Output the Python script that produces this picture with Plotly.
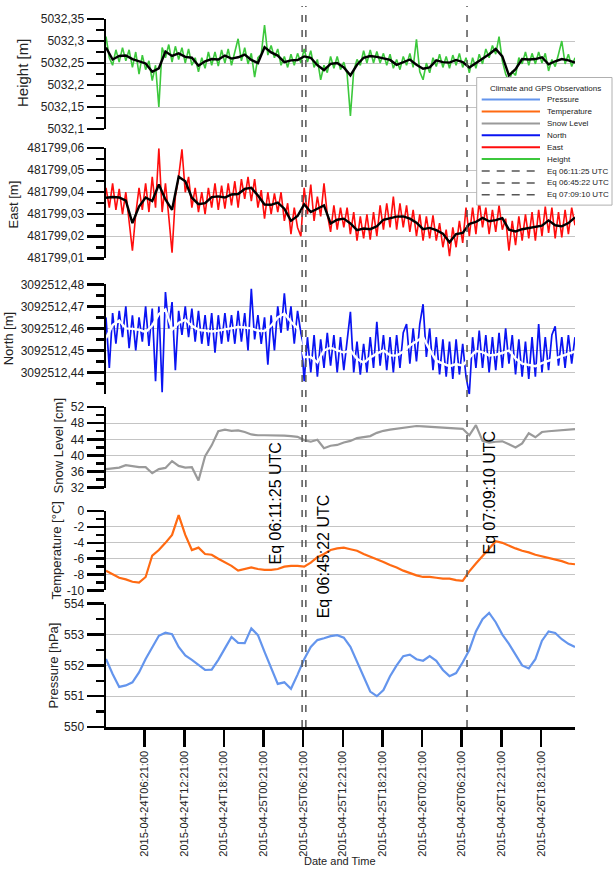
import pandas as pd
import plotly.graph_objects as go

# ---------------- data ----------------
START = "2015-04-24 00:30"
END = "2015-04-26 23:30"
hourly_times = pd.date_range(START, END, freq="60min")      # 72 samples
halfhour_times = pd.date_range(START, END, freq="30min")    # 143 samples

x_tick_times = ["2015-04-24 06:21", "2015-04-24 12:21", "2015-04-24 18:21",
                "2015-04-25 00:21", "2015-04-25 06:21", "2015-04-25 12:21",
                "2015-04-25 18:21", "2015-04-26 00:21", "2015-04-26 06:21",
                "2015-04-26 12:21", "2015-04-26 18:21"]
x_tick_labels = ["2015-04-24T06:21:00", "2015-04-24T12:21:00", "2015-04-24T18:21:00",
                 "2015-04-25T00:21:00", "2015-04-25T06:21:00", "2015-04-25T12:21:00",
                 "2015-04-25T18:21:00", "2015-04-26T00:21:00", "2015-04-26T06:21:00",
                 "2015-04-26T12:21:00", "2015-04-26T18:21:00"]

eq_times = ["2015-04-25 06:11:25", "2015-04-25 06:45:22", "2015-04-26 07:09:10"]
eq_labels = ["Eq 06:11:25 UTC", "Eq 06:45:22 UTC", "Eq 07:09:10 UTC"]

pressure_hpa = [
    552.21, 551.72, 551.30, 551.35, 551.45, 551.77, 552.21, 552.61, 552.96, 553.06,
    553.01, 552.60, 552.32, 552.18, 552.00, 551.85, 551.86, 552.18, 552.55, 552.92,
    552.73, 552.72, 553.20, 552.98, 552.44, 551.90, 551.40, 551.45, 551.24, 551.70,
    552.20, 552.60, 552.82, 552.88, 552.95, 552.98, 552.90, 552.60, 552.10, 551.60,
    551.15, 551.00, 551.20, 551.65, 552.00, 552.30, 552.35, 552.20, 552.15, 552.30,
    552.15, 551.85, 551.65, 551.75, 552.10, 552.50, 553.10, 553.50, 553.70, 553.40,
    553.00, 552.70, 552.35, 552.00, 551.90, 552.20, 552.80, 553.10, 553.05, 552.85,
    552.70, 552.60]

temperature_c = [
    -7.5, -8.0, -8.4, -8.6, -8.9, -9.0, -8.3, -5.6, -4.9, -4.0,
    -3.0, -0.5, -3.0, -4.9, -4.6, -5.4, -5.5, -6.0, -6.4, -6.9,
    -7.5, -7.3, -7.1, -7.3, -7.4, -7.4, -7.3, -7.0, -6.9, -6.9,
    -7.0, -6.5, -5.8, -5.4, -4.9, -4.7, -4.6, -4.8, -5.0, -5.4,
    -5.7, -6.0, -6.4, -6.8, -7.1, -7.5, -7.8, -8.1, -8.3, -8.3,
    -8.4, -8.5, -8.5, -8.7, -8.8, -7.6, -6.6, -5.7, -4.8, -3.8,
    -4.0, -4.4, -4.7, -5.0, -5.2, -5.5, -5.7, -5.9, -6.1, -6.3,
    -6.6, -6.7]

snow_level_cm = [
    36.6, 36.8, 37.0, 37.6, 37.3, 37.1, 37.1, 35.6, 36.6, 36.9,
    38.6, 37.4, 37.0, 37.1, 33.8, 39.8, 42.5, 46.0, 46.4, 46.1,
    46.2, 45.8, 45.2, 45.0, 45.0, 45.0, 45.0, 44.9, 44.8, 44.6,
    43.8, 43.4, 43.9, 41.8, 42.4, 42.6, 43.2, 43.6, 44.3, 44.5,
    44.8, 45.6, 46.1, 46.4, 46.6, 46.9, 47.0, 47.3, 47.2, 47.1,
    46.9, 46.8, 46.8, 46.7, 46.6, 45.0, 47.5, 43.6, 43.2, 43.4,
    43.5, 42.8, 42.0, 43.0, 45.5, 44.5, 45.8, 46.0, 46.1, 46.3,
    46.4, 46.5]

height_raw_m = [
    5032.310, 5032.262, 5032.245, 5032.280, 5032.252, 5032.285, 5032.255, 5032.280, 5032.240, 5032.275,
    5032.225, 5032.268, 5032.235, 5032.255, 5032.210, 5032.245, 5032.150, 5032.285, 5032.262, 5032.292,
    5032.252, 5032.288, 5032.258, 5032.285, 5032.250, 5032.282, 5032.245, 5032.262, 5032.230, 5032.262,
    5032.238, 5032.275, 5032.245, 5032.275, 5032.243, 5032.280, 5032.250, 5032.282, 5032.245, 5032.275,
    5032.305, 5032.255, 5032.285, 5032.248, 5032.272, 5032.218, 5032.262, 5032.270, 5032.336, 5032.268,
    5032.290, 5032.262, 5032.282, 5032.245, 5032.265, 5032.240, 5032.270, 5032.245, 5032.272, 5032.250,
    5032.282, 5032.252, 5032.278, 5032.240, 5032.258, 5032.212, 5032.245, 5032.228, 5032.265, 5032.238,
    5032.265, 5032.235, 5032.252, 5032.225, 5032.130, 5032.232, 5032.258, 5032.245, 5032.278, 5032.250,
    5032.280, 5032.250, 5032.276, 5032.250, 5032.272, 5032.245, 5032.270, 5032.238, 5032.258, 5032.235,
    5032.265, 5032.245, 5032.272, 5032.240, 5032.304, 5032.230, 5032.212, 5032.250, 5032.228, 5032.262,
    5032.242, 5032.270, 5032.240, 5032.265, 5032.238, 5032.268, 5032.245, 5032.272, 5032.240, 5032.262,
    5032.228, 5032.262, 5032.238, 5032.270, 5032.248, 5032.282, 5032.262, 5032.290, 5032.270, 5032.310,
    5032.255, 5032.225, 5032.208, 5032.230, 5032.222, 5032.262, 5032.248, 5032.275, 5032.245, 5032.272,
    5032.248, 5032.275, 5032.250, 5032.272, 5032.232, 5032.258, 5032.242, 5032.270, 5032.300, 5032.248,
    5032.270, 5032.242, 5032.262]

height_smooth_m = [
    5032.285, 5032.258, 5032.266, 5032.267, 5032.259, 5032.254, 5032.249, 5032.230, 5032.238, 5032.276,
    5032.266, 5032.272, 5032.264, 5032.262, 5032.244, 5032.254, 5032.259, 5032.258, 5032.267, 5032.260,
    5032.263, 5032.269, 5032.257, 5032.250, 5032.286, 5032.274, 5032.267, 5032.252, 5032.256, 5032.257,
    5032.265, 5032.262, 5032.245, 5032.234, 5032.248, 5032.250, 5032.240, 5032.222, 5032.246, 5032.262,
    5032.266, 5032.264, 5032.261, 5032.257, 5032.246, 5032.252, 5032.258, 5032.246, 5032.237, 5032.240,
    5032.256, 5032.252, 5032.251, 5032.257, 5032.252, 5032.240, 5032.250, 5032.260, 5032.270, 5032.282,
    5032.265, 5032.222, 5032.236, 5032.259, 5032.258, 5032.259, 5032.263, 5032.247, 5032.254, 5032.259,
    5032.256, 5032.251]

east_raw_m = [
    481799.0420, 481799.0330, 481799.0440, 481799.0320, 481799.0415, 481799.0300, 481799.0400, 481799.0280, 481799.0135, 481799.0300,
    481799.0420, 481799.0320, 481799.0440, 481799.0310, 481799.0470, 481799.0330, 481799.0600, 481799.0310, 481799.0440, 481799.0290,
    481799.0125, 481799.0380, 481799.0470, 481799.0595, 481799.0400, 481799.0470, 481799.0330, 481799.0420, 481799.0310, 481799.0400,
    481799.0300, 481799.0420, 481799.0330, 481799.0440, 481799.0320, 481799.0430, 481799.0325, 481799.0440, 481799.0340, 481799.0450,
    481799.0330, 481799.0460, 481799.0370, 481799.0470, 481799.0360, 481799.0460, 481799.0330, 481799.0410, 481799.0280, 481799.0400,
    481799.0300, 481799.0395, 481799.0310, 481799.0400, 481799.0270, 481799.0350, 481799.0210, 481799.0330, 481799.0240, 481799.0200,
    481799.0420, 481799.0300, 481799.0435, 481799.0270, 481799.0380, 481799.0290, 481799.0440, 481799.0300, 481799.0220, 481799.0340,
    481799.0230, 481799.0330, 481799.0240, 481799.0330, 481799.0210, 481799.0310, 481799.0180, 481799.0290, 481799.0190, 481799.0300,
    481799.0185, 481799.0310, 481799.0200, 481799.0340, 481799.0230, 481799.0350, 481799.0240, 481799.0380, 481799.0230, 481799.0350,
    481799.0240, 481799.0340, 481799.0220, 481799.0320, 481799.0200, 481799.0300, 481799.0180, 481799.0290, 481799.0190, 481799.0295,
    481799.0180, 481799.0260, 481799.0150, 481799.0230, 481799.0110, 481799.0240, 481799.0150, 481799.0270, 481799.0170, 481799.0330,
    481799.0200, 481799.0330, 481799.0210, 481799.0360, 481799.0240, 481799.0330, 481799.0210, 481799.0320, 481799.0220, 481799.0340,
    481799.0230, 481799.0280, 481799.0135, 481799.0270, 481799.0160, 481799.0290, 481799.0180, 481799.0300, 481799.0190, 481799.0310,
    481799.0180, 481799.0320, 481799.0200, 481799.0335, 481799.0215, 481799.0330, 481799.0190, 481799.0310, 481799.0195, 481799.0320,
    481799.0210, 481799.0330, 481799.0250]

east_smooth_m = [
    481799.0375, 481799.0378, 481799.0376, 481799.0362, 481799.0260, 481799.0335, 481799.0376, 481799.0360, 481799.0435, 481799.0367,
    481799.0320, 481799.0470, 481799.0450, 481799.0375, 481799.0346, 481799.0350, 481799.0378, 481799.0381, 481799.0376, 481799.0390,
    481799.0392, 481799.0415, 481799.0420, 481799.0385, 481799.0344, 481799.0343, 481799.0353, 481799.0325, 481799.0270, 481799.0292,
    481799.0345, 481799.0310, 481799.0325, 481799.0340, 481799.0258, 481799.0275, 481799.0280, 481799.0258, 481799.0228, 481799.0235,
    481799.0232, 481799.0245, 481799.0275, 481799.0283, 481799.0289, 481799.0290, 481799.0280, 481799.0262, 481799.0232, 481799.0238,
    481799.0228, 481799.0212, 481799.0173, 481799.0210, 481799.0215, 481799.0256, 481799.0265, 481799.0283, 481799.0268, 481799.0273,
    481799.0282, 481799.0230, 481799.0222, 481799.0232, 481799.0238, 481799.0242, 481799.0248, 481799.0272, 481799.0250, 481799.0245,
    481799.0260, 481799.0285]

north_raw_m = [
    3092512.4650, 3092512.4420, 3092512.4670, 3092512.4530, 3092512.4680, 3092512.4560, 3092512.4700, 3092512.4510, 3092512.4660, 3092512.4500,
    3092512.4650, 3092512.4540, 3092512.4700, 3092512.4520, 3092512.4690, 3092512.4360, 3092512.4700, 3092512.4310, 3092512.4765, 3092512.4600,
    3092512.4720, 3092512.4410, 3092512.4680, 3092512.4570, 3092512.4700, 3092512.4560, 3092512.4690, 3092512.4540, 3092512.4680, 3092512.4530,
    3092512.4660, 3092512.4520, 3092512.4670, 3092512.4490, 3092512.4660, 3092512.4530, 3092512.4670, 3092512.4540, 3092512.4660, 3092512.4530,
    3092512.4680, 3092512.4540, 3092512.4670, 3092512.4500, 3092512.4780, 3092512.4550, 3092512.4660, 3092512.4530, 3092512.4650, 3092512.4435,
    3092512.4660, 3092512.4500, 3092512.4700, 3092512.4580, 3092512.4760, 3092512.4590, 3092512.4700, 3092512.4530, 3092512.4680, 3092512.4580,
    3092512.4360, 3092512.4560, 3092512.4400, 3092512.4570, 3092512.4380, 3092512.4550, 3092512.4420, 3092512.4580, 3092512.4430, 3092512.4570,
    3092512.4400, 3092512.4560, 3092512.4410, 3092512.4550, 3092512.4675, 3092512.4400, 3092512.4540, 3092512.4390, 3092512.4530, 3092512.4400,
    3092512.4560, 3092512.4420, 3092512.4630, 3092512.4430, 3092512.4570, 3092512.4410, 3092512.4560, 3092512.4400, 3092512.4570, 3092512.4420,
    3092512.4580, 3092512.4620, 3092512.4440, 3092512.4600, 3092512.4450, 3092512.4620, 3092512.4710, 3092512.4470, 3092512.4600, 3092512.4410,
    3092512.4560, 3092512.4390, 3092512.4550, 3092512.4380, 3092512.4540, 3092512.4370, 3092512.4550, 3092512.4390, 3092512.4530, 3092512.4380,
    3092512.4300, 3092512.4560, 3092512.4420, 3092512.4590, 3092512.4420, 3092512.4570, 3092512.4400, 3092512.4560, 3092512.4410, 3092512.4580,
    3092512.4420, 3092512.4600, 3092512.4440, 3092512.4570, 3092512.4390, 3092512.4550, 3092512.4380, 3092512.4540, 3092512.4370, 3092512.4560,
    3092512.4380, 3092512.4620, 3092512.4400, 3092512.4560, 3092512.4410, 3092512.4570, 3092512.4610, 3092512.4430, 3092512.4560, 3092512.4420,
    3092512.4570, 3092512.4440, 3092512.4560]

north_smooth_m = [
    3092512.4555, 3092512.4615, 3092512.4636, 3092512.4600, 3092512.4598, 3092512.4594, 3092512.4583, 3092512.4613, 3092512.4665, 3092512.4686,
    3092512.4594, 3092512.4625, 3092512.4640, 3092512.4612, 3092512.4594, 3092512.4589, 3092512.4586, 3092512.4590, 3092512.4596, 3092512.4601,
    3092512.4606, 3092512.4604, 3092512.4600, 3092512.4589, 3092512.4588, 3092512.4612, 3092512.4650, 3092512.4668, 3092512.4630, 3092512.4600,
    3092512.4470, 3092512.4470, 3092512.4445, 3092512.4500, 3092512.4512, 3092512.4500, 3092512.4490, 3092512.4500, 3092512.4462, 3092512.4444,
    3092512.4468, 3092512.4485, 3092512.4500, 3092512.4478, 3092512.4476, 3092512.4495, 3092512.4522, 3092512.4541, 3092512.4560, 3092512.4502,
    3092512.4453, 3092512.4440, 3092512.4428, 3092512.4438, 3092512.4430, 3092512.4467, 3092512.4497, 3092512.4492, 3092512.4477, 3092512.4480,
    3092512.4488, 3092512.4500, 3092512.4462, 3092512.4440, 3092512.4434, 3092512.4428, 3092512.4442, 3092512.4452, 3092512.4463, 3092512.4474,
    3092512.4485, 3092512.4495]

# y tick values / labels (decimal comma as in the original)
height_ticks = [5032.10, 5032.15, 5032.20, 5032.25, 5032.30, 5032.35]
height_tick_labels = ["5032,1", "5032,15", "5032,2", "5032,25", "5032,3", "5032,35"]
height_minor = [5032.125, 5032.175, 5032.225, 5032.275, 5032.325]
east_ticks = [481799.01, 481799.02, 481799.03, 481799.04, 481799.05, 481799.06]
east_tick_labels = ["481799,01", "481799,02", "481799,03", "481799,04", "481799,05", "481799,06"]
east_minor = [481799.015, 481799.025, 481799.035, 481799.045, 481799.055]
north_ticks = [3092512.44, 3092512.45, 3092512.46, 3092512.47, 3092512.48]
north_tick_labels = ["3092512,44", "3092512,45", "3092512,46", "3092512,47", "3092512,48"]
north_minor = [3092512.435, 3092512.445, 3092512.455, 3092512.465, 3092512.475]
snow_ticks = [32, 36, 40, 44, 48, 52]
snow_tick_labels = ["32", "36", "40", "44", "48", "52"]
snow_minor = [34, 38, 42, 46, 50]
temp_ticks = [-10, -8, -6, -4, -2, 0]
temp_tick_labels = ["-10", "-8", "-6", "-4", "-2", "0"]
temp_minor = [-9, -7, -5, -3, -1]
pressure_ticks = [550, 551, 552, 553, 554]
pressure_tick_labels = ["550", "551", "552", "553", "554"]
pressure_minor = [550.5, 551.5, 552.5, 553.5]

# ---------------- styling ----------------
FONT = "Liberation Sans, Arial, sans-serif"
EQ_FONT = "Liberation Sans, Arial, sans-serif"
C_PRESSURE = "#6495ED"
C_TEMP = "#FF6A12"
C_SNOW = "#9A9A9A"
C_NORTH = "#0A14F2"
C_EAST = "#FF0D0D"
C_HEIGHT = "#3CC83C"
C_EQ = "#555555"

W, H = 614, 870
ML, MR, MT, MB = 106, 39, 13, 143
PW, PH = W - ML - MR, H - MT - MB


def px_x(p):
    return (p - ML) / PW


def px_y(p):
    return (H - MB - p) / PH


fig = go.Figure()


def add_line(x, y, yaxis, color, width):
    fig.add_trace(go.Scatter(x=x, y=y, xaxis="x", yaxis=yaxis, mode="lines",
                             line=dict(color=color, width=width),
                             showlegend=False, hoverinfo="skip"))


add_line(halfhour_times, height_raw_m, "y", C_HEIGHT, 1.6)
add_line(hourly_times, height_smooth_m, "y", "black", 2.4)
add_line(halfhour_times, east_raw_m, "y2", C_EAST, 1.6)
add_line(hourly_times, east_smooth_m, "y2", "black", 2.4)
add_line(halfhour_times, north_raw_m, "y3", C_NORTH, 1.7)
add_line(hourly_times, north_smooth_m, "y3", "white", 2.4)
add_line(hourly_times, snow_level_cm, "y4", C_SNOW, 2.2)
add_line(hourly_times, temperature_c, "y5", C_TEMP, 2.2)
add_line(hourly_times, pressure_hpa, "y6", C_PRESSURE, 2.2)


def yaxis(domain, rng, tv, tt, mv):
    return dict(domain=domain, range=rng, anchor="x", tickmode="array",
                tickvals=tv, ticktext=tt, ticks="outside", ticklen=17,
                tickwidth=2.5, tickcolor="black", showline=True,
                linecolor="black", linewidth=2.5, showgrid=True,
                gridcolor="#c4c4c4", gridwidth=1, zeroline=False,
                tickfont=dict(family=FONT, size=12, color="#222"),
                minor=dict(tickmode="array", tickvals=mv, ticks="outside",
                           ticklen=8, tickwidth=2.5, tickcolor="black",
                           showgrid=False),
                fixedrange=True)


eps = 1e-7
layout = dict(
    width=W, height=H, autosize=False,
    margin=dict(l=ML, r=MR, t=MT, b=MB, pad=0),
    paper_bgcolor="white", plot_bgcolor="white",
    font=dict(family=FONT, color="#222"),
    showlegend=False,
    xaxis=dict(domain=[0, 1], anchor="y6", type="date", range=[START, END],
               tickmode="array", tickvals=x_tick_times, ticktext=x_tick_labels,
               tickangle=-90, ticks="outside", ticklen=17, tickwidth=2.5,
               tickcolor="black", showline=True, linecolor="black",
               linewidth=2.5, showgrid=False, zeroline=False,
               tickfont=dict(family=FONT, size=11, color="#222"),
               fixedrange=True),
    yaxis=yaxis([px_y(124), 1.0], [5032.1 - eps, 5032.35 + eps],
                height_ticks, height_tick_labels, height_minor),
    yaxis2=yaxis([px_y(254.3), px_y(143.3)], [481799.01 - eps, 481799.06 + eps],
                 east_ticks, east_tick_labels, east_minor),
    yaxis3=yaxis([px_y(391.5), px_y(280.7)], [3092512.43, 3092512.48 + eps],
                 north_ticks, north_tick_labels, north_minor),
    yaxis4=yaxis([px_y(485.7), px_y(404.3)], [32 - eps, 52 + eps],
                 snow_ticks, snow_tick_labels, snow_minor),
    yaxis5=yaxis([px_y(589.3), px_y(509.3)], [-10 - eps, 0 + eps],
                 temp_ticks, temp_tick_labels, temp_minor),
    yaxis6=yaxis([0, px_y(602.7)], [550 - eps, 554 + eps],
                 pressure_ticks, pressure_tick_labels, pressure_minor),
)
fig.update_layout(**layout)

shapes = []
annotations = []

# earthquake markers
eq_shift = [-27, 18, 22]
eq_label_y = [px_y(501.5), px_y(555), px_y(490.5)]
for t, lab, dx, yy in zip(eq_times, eq_labels, eq_shift, eq_label_y):
    shapes.append(dict(type="line", xref="x", yref="paper", x0=t, x1=t,
                       y0=0, y1=px_y(0), layer="above",
                       line=dict(color=C_EQ, width=1.5, dash="7px,8px")))
    annotations.append(dict(text=lab, xref="x", yref="paper", x=t, y=yy,
                            xshift=dx, textangle=-90, showarrow=False,
                            xanchor="center", yanchor="middle",
                            font=dict(family=EQ_FONT, size=16, color="black")))

# axis titles
titles = [("Height [m]", 22, 67.5, 15), ("East [m]", 13, 200, 13),
          ("North [m]", 8, 336, 13), ("Snow Level [cm]", 58, 444, 13),
          ("Temperature [°C]", 56, 549, 13), ("Pressure [hPa]", 54, 665, 13)]
for txt, px, py, fs in titles:
    annotations.append(dict(text=txt, xref="paper", yref="paper",
                            x=px_x(px), y=px_y(py), textangle=-90,
                            showarrow=False, xanchor="center", yanchor="middle",
                            font=dict(family=FONT, size=fs, color="#222")))
annotations.append(dict(text="Date and Time", xref="paper", yref="paper",
                        x=px_x(340), y=px_y(862), showarrow=False,
                        xanchor="center", yanchor="middle",
                        font=dict(family=FONT, size=11, color="#222")))

# legend box (drawn like the original)
shapes.append(dict(type="rect", xref="paper", yref="paper",
                   x0=px_x(476.7), x1=px_x(612), y0=px_y(200.7), y1=px_y(72),
                   fillcolor="white", line=dict(color="#b0b0b0", width=1),
                   layer="above"))
annotations.append(dict(text="Climate and GPS Observations", xref="paper",
                        yref="paper", x=px_x(545.8), y=px_y(82.7),
                        showarrow=False, xanchor="center", yanchor="middle",
                        font=dict(family=FONT, size=8, color="#222")))
legend_items = [("Pressure", C_PRESSURE, "solid"), ("Temperature", C_TEMP, "solid"),
                ("Snow Level", C_SNOW, "solid"), ("North", C_NORTH, "solid"),
                ("East", C_EAST, "solid"), ("Height", C_HEIGHT, "solid")]
legend_items += [(lab, C_EQ, "8px,7px") for lab in eq_labels]
for k, (lab, col, dash) in enumerate(legend_items):
    yy = px_y(94.3 + 12 * k)
    shapes.append(dict(type="line", xref="paper", yref="paper",
                       x0=px_x(481.7), x1=px_x(540), y0=yy, y1=yy, layer="above",
                       line=dict(color=col, width=2 if dash == "solid" else 1.5,
                                 dash=dash)))
    annotations.append(dict(text=lab, xref="paper", yref="paper",
                            x=px_x(545), y=yy, showarrow=False,
                            xanchor="left", yanchor="middle",
                            font=dict(family=FONT, size=8, color="#222")))

fig.update_layout(shapes=shapes, annotations=annotations)

fig.write_html("out.html", include_plotlyjs=True, full_html=True,
               config={"displayModeBar": False, "staticPlot": True},
               post_script="document.body.style.margin='0';document.body.style.padding='0';")
